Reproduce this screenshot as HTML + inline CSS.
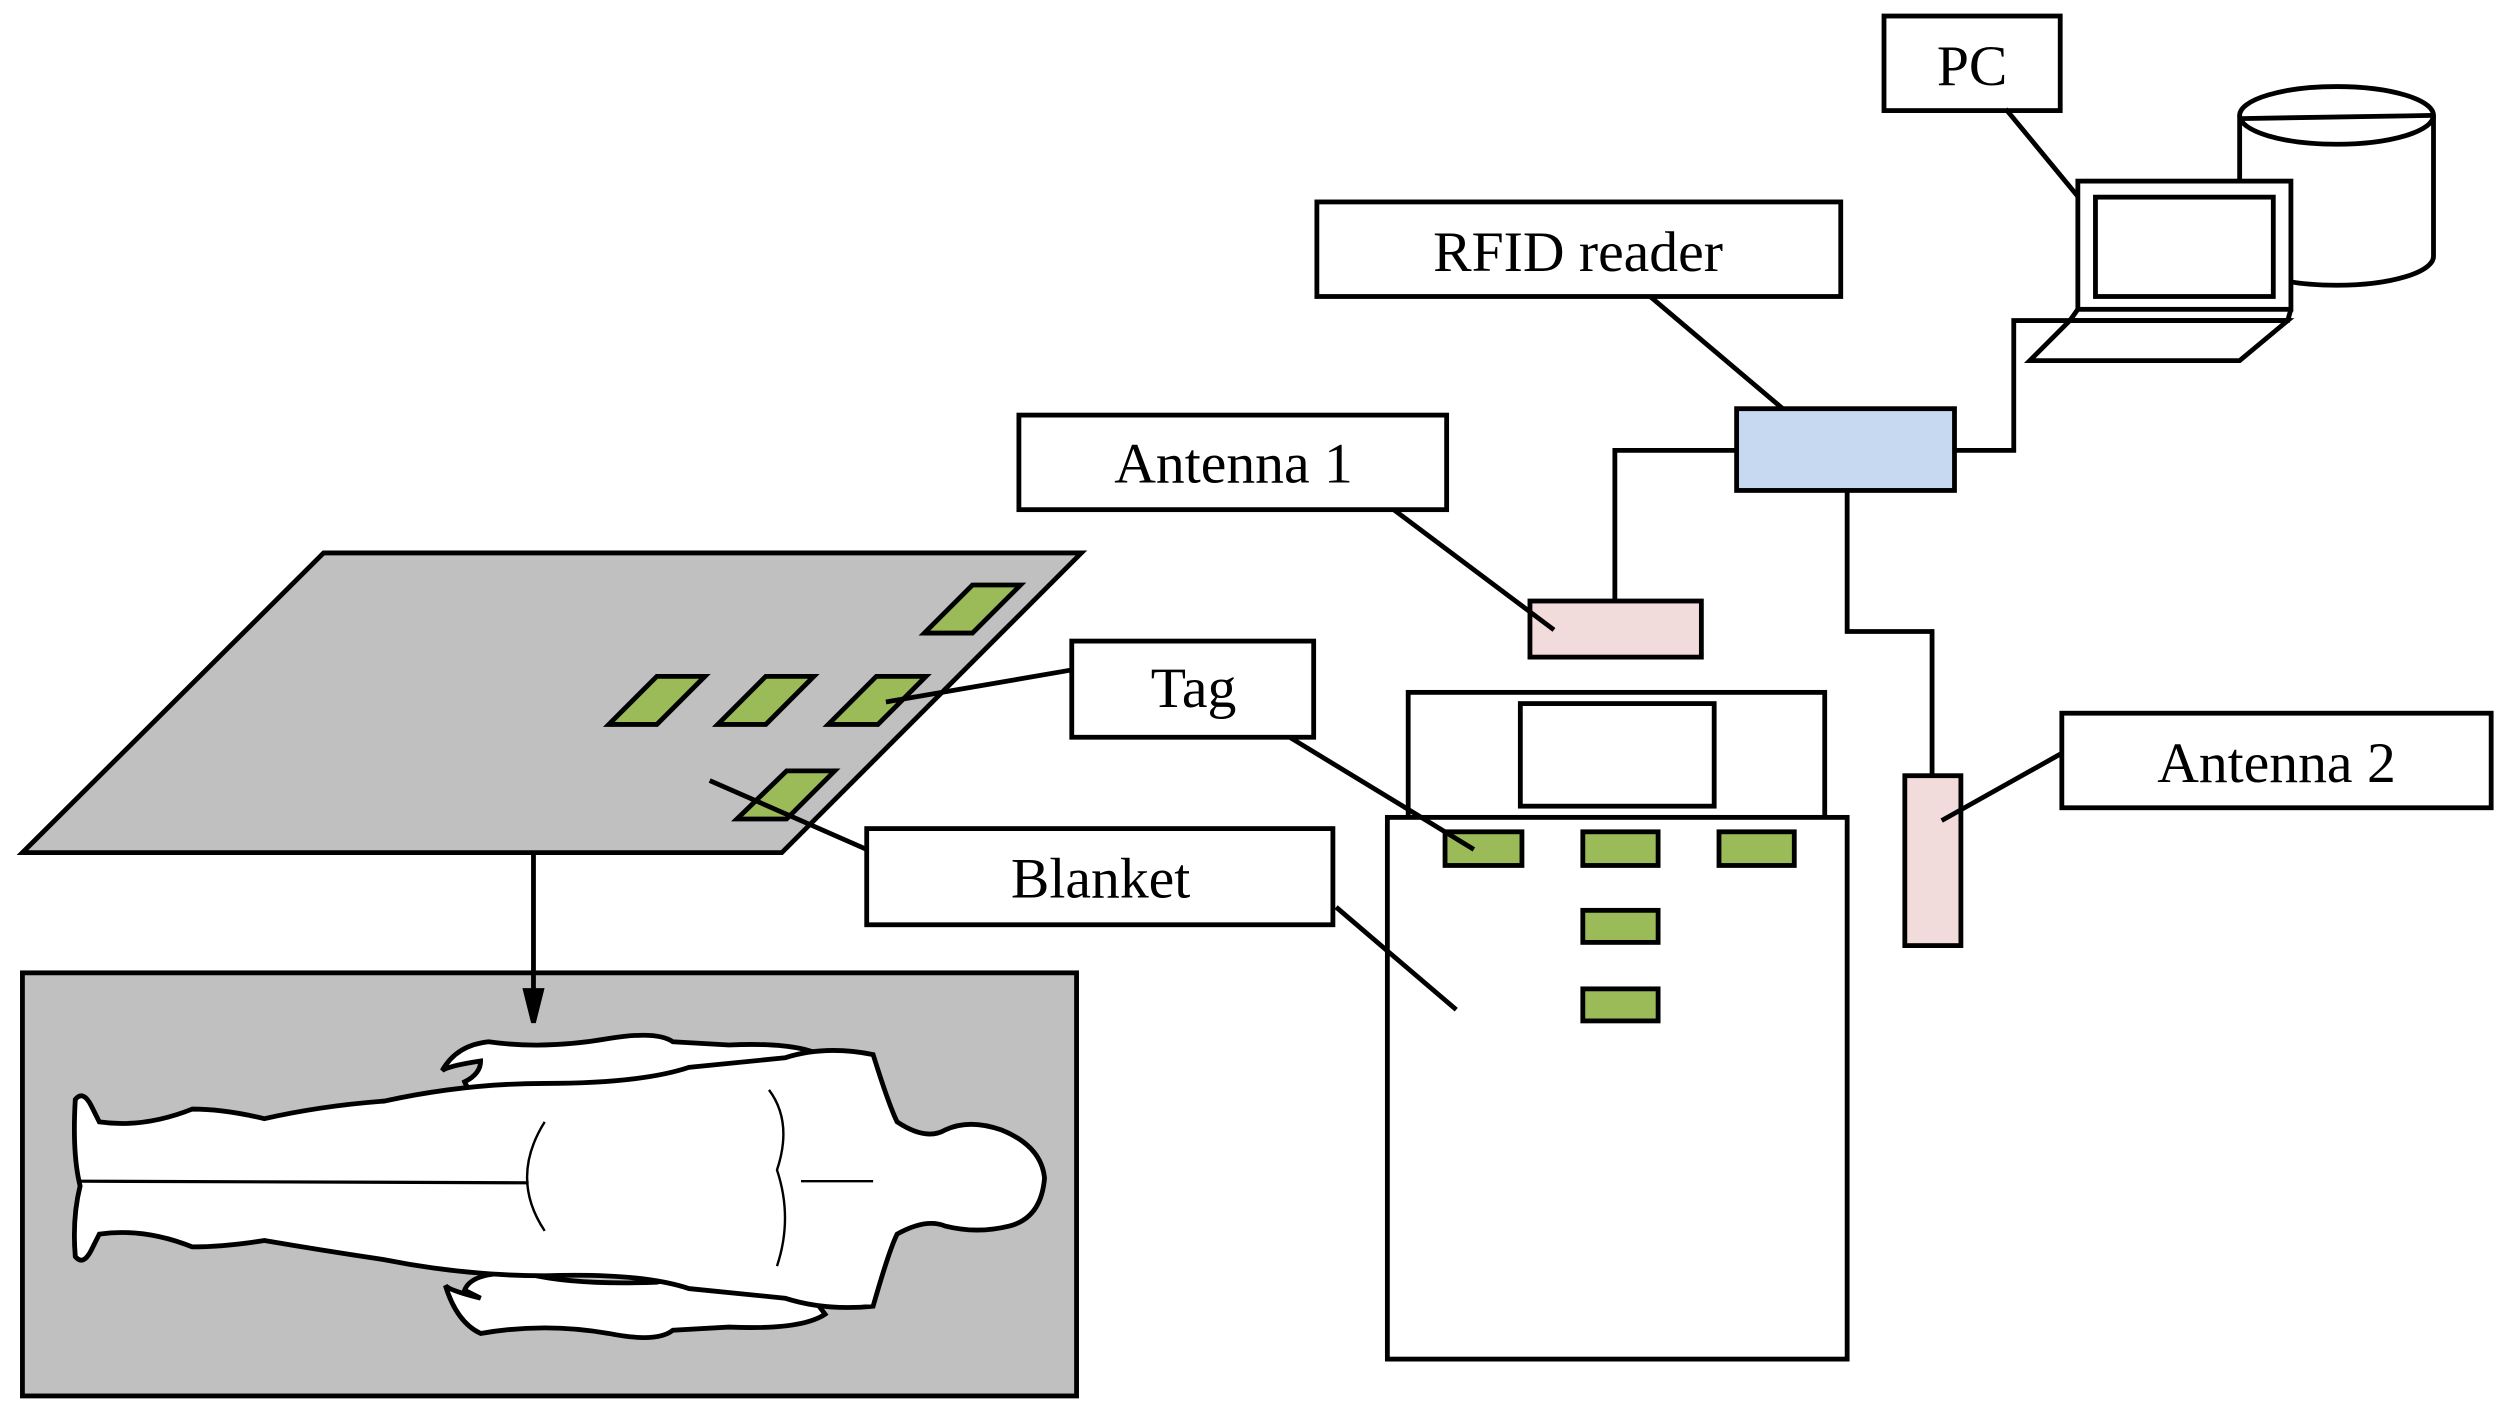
<!DOCTYPE html>
<html><head><meta charset="utf-8"><style>
html,body{margin:0;padding:0;background:#fff;}
svg{display:block;}
text{font-family:"Liberation Serif",serif;font-size:36px;fill:#000;}
</style></head><body>
<svg width="2512" height="1420" viewBox="0 0 1568 886" preserveAspectRatio="none" xmlns="http://www.w3.org/2000/svg">
<g stroke="#000" stroke-width="3" fill="none">
<!-- PC -->
<rect x="1176" y="10" width="110" height="59" fill="#fff"/>
<line x1="1252" y1="68" x2="1318" y2="148"/>
<!-- cylinder -->
<path d="M1398 72 V160 A60.5 18 0 0 0 1519 160 V72" fill="#fff"/>
<ellipse cx="1458.5" cy="72" rx="60.5" ry="18" fill="#fff"/>
<line x1="1398" y1="74" x2="1519" y2="72"/>
<!-- laptop -->
<rect x="1297" y="113" width="133" height="80" fill="#fff"/>
<rect x="1308" y="123" width="111" height="62"/>
<path d="M1297 193 L1292 200 H1428 L1430 193" />
<path d="M1292 200 H1428 L1398 225 H1267 Z" fill="#fff"/>
<!-- RFID reader -->
<rect x="822" y="126" width="327" height="59" fill="#fff"/>
<line x1="1030" y1="185" x2="1127" y2="267"/>
<polyline points="1220,281 1257,281 1257,200 1292,200"/>
<polyline points="1084,281 1008,281 1008,375"/>
<polyline points="1153,306 1153,394 1206,394 1206,484"/>
<rect x="1084" y="255" width="136" height="51" fill="#c6d9f0"/>
<!-- Antenna 1 -->
<rect x="636" y="259" width="267" height="59" fill="#fff"/>
<rect x="955" y="375" width="107" height="35" fill="#f2dcdb"/>
<line x1="870" y1="318" x2="970" y2="393"/>
<!-- Antenna 2 -->
<rect x="1189" y="484" width="35" height="106" fill="#f2dcdb"/>
<rect x="1287" y="445" width="268" height="59" fill="#fff"/>
<line x1="1287" y1="470" x2="1212" y2="512"/>
<!-- device -->
<rect x="879" y="432" width="260" height="78" fill="#fff"/>
<rect x="949" y="439" width="121" height="64"/>
<rect x="866" y="510" width="287" height="338" fill="#fff"/>
<g fill="#9bbb59">
<rect x="902" y="519" width="48" height="21"/>
<rect x="988" y="519" width="47" height="21"/>
<rect x="1073" y="519" width="47" height="21"/>
<rect x="988" y="568" width="47" height="20"/>
<rect x="988" y="617" width="47" height="20"/>
</g>
<!-- blanket -->
<polygon points="202,345 675,345 488,532 14,532" fill="#c0c0c0"/>
<g fill="#9bbb59">
<polygon points="410,422 440,422 410,452 380,452"/>
<polygon points="478,422 508,422 478,452 448,452"/>
<polygon points="547,422 578,422 548,452 517,452"/>
<polygon points="607,365 637,365 607,395 577,395"/>
<polygon points="491,481 521,481 491,511 460,511"/>
</g>
<line x1="553" y1="438" x2="669" y2="418"/>
<rect x="669" y="400" width="151" height="60" fill="#fff"/>
<line x1="805" y1="460" x2="920" y2="530"/>
<line x1="443" y1="487" x2="541" y2="530"/>
<rect x="541" y="517" width="291" height="60" fill="#fff"/>
<line x1="834" y1="566" x2="909" y2="630"/>
<!-- bed -->
<rect x="14" y="607" width="658" height="264" fill="#c0c0c0"/>
<line x1="333" y1="532" x2="333" y2="625"/>
<polygon points="328,618 338,618 333,638" fill="#000"/>
<!-- arms -->
<path d="M300 662 Q280 665 276 668 Q285 652 305 650 Q340 655 380 648 Q410 643 420 650 L455 652 Q500 650 515 660 L500 680 Q460 690 410 680 Q360 678 330 685 Q295 688 290 675 Q300 670 300 662 Z" fill="#fff"/>
<path d="M300 810 Q280 805 278 802 Q285 825 300 832 Q340 825 380 832 Q410 838 420 830 L455 828 Q500 830 515 820 L500 800 Q460 790 410 800 Q360 802 330 795 Q295 792 290 805 Z" fill="#fff"/>
<!-- body -->
<path d="M47 686 Q52 680 57 690 L62 700 Q90 704 120 692 Q140 692 165 698 Q200 690 240 687 Q290 676 340 676 Q400 676 430 666 L490 660 Q515 652 545 658 Q555 690 560 700 Q578 712 590 705 Q605 698 625 705 Q650 715 652 735 Q650 760 630 765 Q610 770 590 765 Q578 760 560 770 Q555 780 545 815 Q515 818 490 810 L430 804 Q400 794 340 796 Q290 796 240 786 Q200 780 165 774 Q140 778 120 778 Q90 766 62 770 L57 780 Q52 790 47 784 Q45 760 50 740 Q45 720 47 686 Z" fill="#fff"/>
<line x1="50" y1="737" x2="330" y2="738" stroke-width="2"/>
<path d="M340 700 Q318 735 340 768" stroke-width="1.5"/>
<path d="M480 680 Q495 700 485 730 Q495 760 485 790" stroke-width="1.5"/>
<line x1="500" y1="737" x2="545" y2="737" stroke-width="1.5"/>
</g>
<text x="1231" y="53" text-anchor="middle">PC</text>
<text x="985" y="169" text-anchor="middle">RFID reader</text>
<text x="770" y="301" text-anchor="middle">Antenna 1</text>
<text x="1421" y="488" text-anchor="middle">Antenna 2</text>
<text x="745" y="441" text-anchor="middle">Tag</text>
<text x="687" y="560" text-anchor="middle">Blanket</text>
</svg>
</body></html>
